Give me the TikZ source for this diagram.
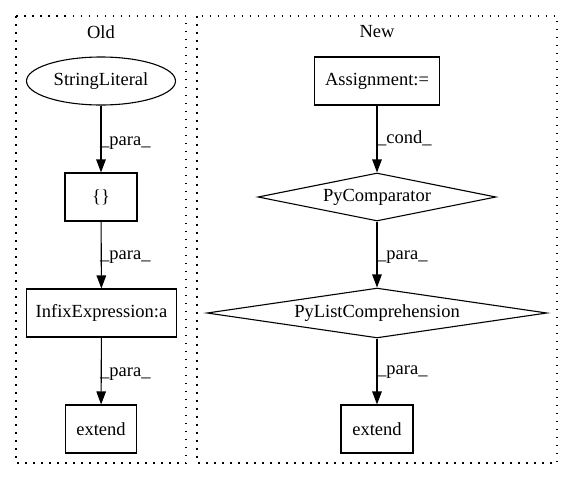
\documentclass[tikz,border=0pt]{standalone}
\usepackage{fontspec}
\setmainfont{Liberation Serif}
\usetikzlibrary{shapes.geometric,arrows.meta}
\begin{document}
\begin{tikzpicture}[x=1pt,y=-1pt,
  every node/.style={font=\fontsize{18.5}{20}\selectfont},
  box/.style={draw,line width=1.1pt,rectangle,inner sep=0pt},
  ell/.style={draw,line width=1.1pt,ellipse,inner sep=0pt},
  dia/.style={draw,line width=1.1pt,diamond,aspect=5,inner sep=0pt},
  cluster/.style={draw,line width=1.2pt,dash pattern=on 1.5pt off 6.5pt},
  edge/.style={line width=1.1pt,-{Triangle[length=13pt,width=9.5pt]}},
  elabel/.style={anchor=west,inner sep=0pt}]
\useasboundingbox (0,0) rectangle (573,480);
% clusters
\draw[cluster] (16,16) rectangle (186,463);
\draw[cluster] (197,16) rectangle (557,463);
\node (oldt) at (101,32) {Old};
\node (newt) at (377,32) {New};
% Old
\node[ell,minimum width=149pt,minimum height=48pt] (sl) at (101,81) {StringLiteral};
\node[box,minimum width=72pt,minimum height=48pt] (br) at (101,197) {\{\}};
\node[box,minimum width=150pt,minimum height=48pt] (inf) at (101.5,313) {InfixExpression:a};
\node[box,minimum width=71pt,minimum height=48pt] (ext1) at (101,429) {extend};
\draw[edge] (sl) -- (br);
\draw[edge] (br) -- (inf);
\draw[edge] (inf) -- (ext1);
\node[elabel] (l1) at (100,143) {\_para\_};
\node[elabel] (l2) at (100,257) {\_para\_};
\node[elabel] (l3) at (100,374) {\_para\_};
% New
\node[box,minimum width=125pt,minimum height=48pt] (asg) at (377,81) {Assignment:=};
\node[dia,minimum width=238pt,minimum height=48pt] (pyc) at (377,197) {PyComparator};
\node[dia,minimum width=340pt,minimum height=48pt] (plc) at (377,313) {PyListComprehension};
\node[box,minimum width=72pt,minimum height=48pt] (ext2) at (377,429) {extend};
\draw[edge] (asg) -- (pyc);
\draw[edge] (pyc) -- (plc);
\draw[edge] (plc) -- (ext2);
\node[elabel] (l4) at (377,138) {\_cond\_};
\node[elabel] (l5) at (377,257) {\_para\_};
\node[elabel] (l6) at (377,372) {\_para\_};
\end{tikzpicture}
\end{document}
